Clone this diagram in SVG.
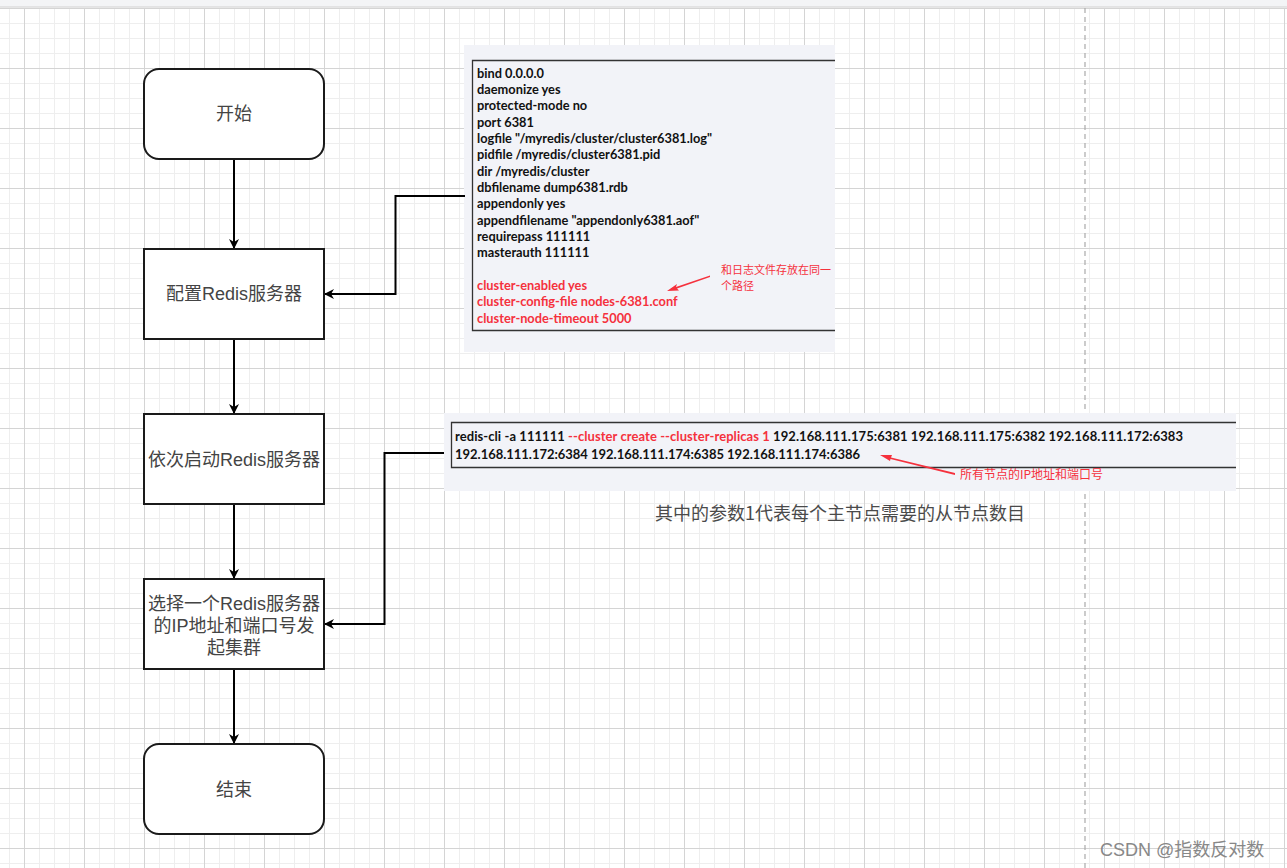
<svg xmlns="http://www.w3.org/2000/svg" width="1287" height="868" viewBox="0 0 1287 868">
<defs>
<pattern id="minor" x="24" y="8" width="15" height="15" patternUnits="userSpaceOnUse">
<path d="M0 0.5H15M0.5 0V15" stroke="#eeeeee" stroke-width="1" fill="none"/>
</pattern>
<pattern id="major" x="24" y="8" width="60" height="60" patternUnits="userSpaceOnUse">
<path d="M0 0.5H60M0.5 0V60" stroke="#d4d4d4" stroke-width="1" fill="none"/>
</pattern>
<marker id="arr" markerWidth="10" markerHeight="10" refX="9" refY="5" orient="auto" markerUnits="userSpaceOnUse" viewBox="0 0 10 10">
<path d="M0 0 L10 5 L0 10 L3 5 Z" fill="#000"/>
</marker>
</defs>
<style>
.node{fill:#fff;stroke:#1a1a1a;stroke-width:2}
.lbl{font-family:"Liberation Sans","Noto Sans CJK SC",sans-serif;font-size:18px;fill:#444;text-anchor:middle}
.edge{fill:none;stroke:#000;stroke-width:2;marker-end:url(#arr)}
.code{font-family:"Lato","Noto Sans",sans-serif;font-weight:bold;font-size:12.8px;fill:#111}
.cmd{font-size:13px}
.red{fill:#f5313d}
.note{font-family:"Noto Sans CJK SC",sans-serif;font-size:11px;fill:#f5313d}
.note2{font-size:12px}
.cap{font-family:"Noto Sans CJK SC",sans-serif;font-size:18px;fill:#4a4a4a}
</style>
<rect width="1287" height="868" fill="#fff"/>
<rect x="0" y="8" width="1287" height="860" fill="url(#minor)"/>
<rect x="0" y="8" width="1287" height="860" fill="url(#major)"/>
<rect x="0" y="0" width="1287" height="7" fill="#f3f4f6"/>
<line x1="0" y1="7" x2="1287" y2="7" stroke="#dcdcdc" stroke-width="1.5"/>
<line x1="1085" y1="8" x2="1085" y2="868" stroke="#aaa" stroke-width="1.2" stroke-dasharray="5 4"/>

<g id="config-image">
<rect x="464" y="45" width="371" height="307" fill="#f2f3f8"/>
<path d="M835 60.5H472.5V330.5H835" fill="none" stroke="#333" stroke-width="1.3"/>
<g class="code">
<text x="477" y="77.5">bind 0.0.0.0</text>
<text x="477" y="93.8">daemonize yes</text>
<text x="477" y="110.1">protected-mode no</text>
<text x="477" y="126.5">port 6381</text>
<text x="477" y="142.8">logfile "/myredis/cluster/cluster6381.log"</text>
<text x="477" y="159.1">pidfile /myredis/cluster6381.pid</text>
<text x="477" y="175.5">dir /myredis/cluster</text>
<text x="477" y="191.8">dbfilename dump6381.rdb</text>
<text x="477" y="208.1">appendonly yes</text>
<text x="477" y="224.5">appendfilename "appendonly6381.aof"</text>
<text x="477" y="240.8">requirepass 111111</text>
<text x="477" y="257.1">masterauth 111111</text>
<text x="477" y="289.8" class="red">cluster-enabled yes</text>
<text x="477" y="306.1" class="red">cluster-config-file nodes-6381.conf</text>
<text x="477" y="322.5" class="red">cluster-node-timeout 5000</text>
</g>
<path d="M710 275.5 L676 287 L677 284 L667 291 L679 290.5 L677 288.5 L710 277 Z" fill="#f5313d"/>
<text class="note" x="721" y="274">和日志文件存放在同一</text>
<text class="note" x="721" y="290">个路径</text>
</g>

<g id="command-image">
<rect x="444" y="413" width="792" height="78" fill="#f2f3f8"/>
<path d="M1236 422.5H451.5V467.5H1236" fill="none" stroke="#333" stroke-width="1.3"/>
<text class="code cmd" x="455" y="441" textLength="728" lengthAdjust="spacing">redis-cli -a 111111 <tspan class="red">--cluster create --cluster-replicas 1</tspan> 192.168.111.175:6381 192.168.111.175:6382 192.168.111.172:6383</text>
<text class="code cmd" x="455" y="459" textLength="405" lengthAdjust="spacing">192.168.111.172:6384 192.168.111.174:6385 192.168.111.174:6386</text>
<path d="M955 473 L891 457.5 L892 455 L880 455 L890 461 L890.5 459 L955 475 Z" fill="#f5313d"/>
<text class="note note2" x="960" y="478.5">所有节点的IP地址和端口号</text>
</g>

<g id="caption">
<text class="cap" x="655" y="520">其中的参数1代表每个主节点需要的从节点数目</text>
</g>

<g id="connectors">
<path class="edge" d="M234 159V248"/>
<path class="edge" d="M234 339V413"/>
<path class="edge" d="M234 504V578"/>
<path class="edge" d="M234 669V743"/>
<path class="edge" d="M465 196H395.5V294H325"/>
<path class="edge" d="M444 453H384.5V624H325"/>
</g>

<g id="start">
<rect class="node" x="144" y="69" width="180" height="90" rx="15"/>
<text class="lbl" x="234" y="120">开始</text>
</g>
<g id="configure">
<rect class="node" x="144" y="249" width="180" height="90"/>
<text class="lbl" x="234" y="300">配置Redis服务器</text>
</g>
<g id="startup">
<rect class="node" x="144" y="414" width="180" height="90"/>
<text class="lbl" x="234" y="466">依次启动Redis服务器</text>
</g>
<g id="create-cluster">
<rect class="node" x="144" y="579" width="180" height="90"/>
<text class="lbl" x="234" y="610">选择一个Redis服务器</text>
<text class="lbl" x="234" y="632">的IP地址和端口号发</text>
<text class="lbl" x="234" y="654">起集群</text>
</g>
<g id="end">
<rect class="node" x="144" y="744" width="180" height="90" rx="15"/>
<text class="lbl" x="234" y="796">结束</text>
</g>

<text x="1100" y="856" font-family="Liberation Sans,Noto Sans CJK SC,sans-serif" font-size="18" fill="#888">CSDN @指数反对数</text>
</svg>
